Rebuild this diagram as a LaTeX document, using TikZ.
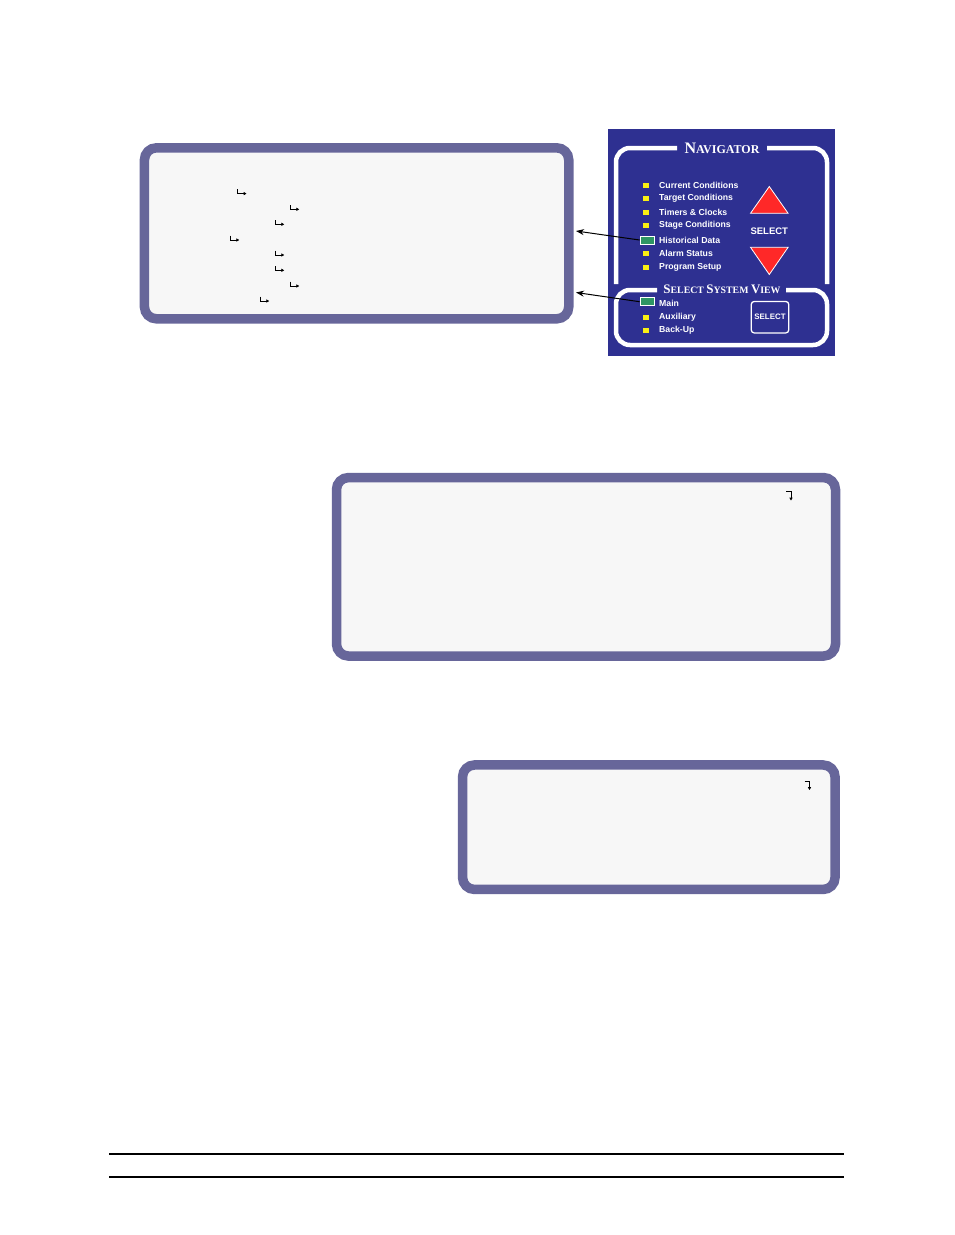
\documentclass[tikz,border=0pt]{standalone}
\usepackage{fontspec}
\setmainfont{Liberation Sans}
\newfontfamily\navfont{Liberation Serif}
\usetikzlibrary{arrows.meta}

\definecolor{panelblue}{RGB}{46,48,145}
\definecolor{screenrim}{RGB}{103,102,154}
\definecolor{screenfill}{RGB}{247,247,247}
\definecolor{lampyellow}{RGB}{250,240,20}
\definecolor{lampgreen}{RGB}{46,150,100}
\definecolor{keyred}{RGB}{255,40,40}

\newcommand{\smallcap}[4]{{\fontsize{#1}{#1}\selectfont #3}{\fontsize{#2}{#2}\selectfont #4}}

\tikzset{
  screen/.style={draw=screenrim, fill=screenfill, line width=9.5pt, rounded corners=12pt, inner sep=0pt},
  frame/.style={draw=white, line width=4.5pt, rounded corners=14pt},
  lamp/.style={fill=lampyellow, minimum width=6pt, minimum height=5pt, inner sep=0pt},
  lampon/.style={draw=white, line width=0.9pt, fill=lampgreen, minimum width=14pt, minimum height=8pt, inner sep=0pt},
  item/.style={text=white, font=\bfseries\fontsize{8.7}{9}\selectfont, anchor=west, inner sep=0pt},
  ret/.style={line width=1pt, -{Latex[length=3pt,width=3.6pt]}},
  key/.style={fill=keyred, draw=white, line width=0.8pt, line join=miter}
}

\begin{document}
\begin{tikzpicture}[x=1pt,y=-1pt]
\useasboundingbox[fill=white] (0,0) rectangle (954,1235);

% screens
\node[screen, minimum width=424.3pt, minimum height=171pt] (scrA) at (356.6,233.3) {};
\node[screen, minimum width=499pt, minimum height=178.5pt] (scrB) at (586,566.8) {};
\node[screen, minimum width=372.5pt, minimum height=124.5pt] (scrC) at (648.8,827.2) {};

\draw[ret] (237.3,189.3) |- +(9.4,4.3);
\draw[ret] (290,205) |- +(9.4,4.3);
\draw[ret] (275,220) |- +(9.4,4.3);
\draw[ret] (230,235.7) |- +(9.4,4.3);
\draw[ret] (275,250.7) |- +(9.4,4.3);
\draw[ret] (275,266) |- +(9.4,4.3);
\draw[ret] (290,281.7) |- +(9.4,4.3);
\draw[ret] (260,296.7) |- +(9.4,4.3);

\draw[ret] (786,491.5) -| +(5,9.2);
\draw[ret] (804.5,781) -| +(5,9.2);

% navigator panel
\node[fill=panelblue, minimum width=227pt, minimum height=227pt, inner sep=0pt] (panel) at (721.5,242.5) {};
\draw[frame] (677,148) -| (616,284);
\draw[frame] (767,148) -| (827,284);
\draw[frame] (657,290) -| (616,345) -| (827,290) -- (786,290);
\node[text=white, font=\navfont\bfseries, inner sep=0pt] (navtitle) at (722,148) {\smallcap{16}{12}{N}{AVIGATOR}};
\node[text=white, font=\navfont\bfseries, inner sep=0pt] (viewtitle) at (722,289)
  {\smallcap{13}{9.8}{S}{ELECT} \smallcap{13}{9.8}{S}{YSTEM} \smallcap{13}{9.8}{V}{IEW}};

\node[lamp] (lcur) at (646.3,185.7) {};
\node[lamp] (ltar) at (646.3,198.3) {};
\node[lamp] (ltim) at (646.3,212.7) {};
\node[lamp] (lsta) at (646.3,225.7) {};
\node[lampon] (hist) at (647,240) {};
\node[lamp] (lala) at (646.3,253.7) {};
\node[lamp] (lpro) at (646.3,267.3) {};
\node[lampon] (main) at (647,301.7) {};
\node[lamp] (laux) at (646.3,317.3) {};
\node[lamp] (lbak) at (646.3,330) {};

\node[item] at (659,185.7) {Current Conditions};
\node[item] at (659,198.3) {Target Conditions};
\node[item] at (659,212.7) {Timers \& Clocks};
\node[item] at (659,225.7) {Stage Conditions};
\node[item] at (659,240) {Historical Data};
\node[item] at (659,253.7) {Alarm Status};
\node[item] at (659,267.3) {Program Setup};
\node[item] at (659,303.3) {Main};
\node[item] at (659,317.3) {Auxiliary};
\node[item] at (659,330) {Back-Up};

\draw[key] (769.3,186.5) -- (750.5,213.3) -- (788.1,213.3) -- cycle;
\draw[key] (750.5,247.3) -- (788.1,247.3) -- (769.3,274.5) -- cycle;
\node[text=white, font=\bfseries\fontsize{9.5}{10}\selectfont, inner sep=0pt] (sel) at (769.3,231) {SELECT};
\node[draw=white, line width=1.3pt, rounded corners=3pt, minimum width=37.5pt, minimum height=31.5pt, inner sep=0pt,
  text=white, font=\bfseries\fontsize{7.9}{8}\selectfont] (selbtn) at (770,317.2) {SELECT};

% pointers to the screen
\coordinate (tipA) at (576,231);
\coordinate (tipB) at (576,292.5);
\draw[line width=1pt, -{Stealth[length=8pt,width=6pt]}] (hist.west) -- (tipA);
\draw[line width=1pt, -{Stealth[length=8pt,width=6pt]}] (main.west) -- (tipB);

% rules at the foot of the page
\draw[line width=2pt] (109,1153.5) -- (844,1153.5);
\draw[line width=2pt] (109,1176.5) -- (844,1176.5);
\end{tikzpicture}
\end{document}
